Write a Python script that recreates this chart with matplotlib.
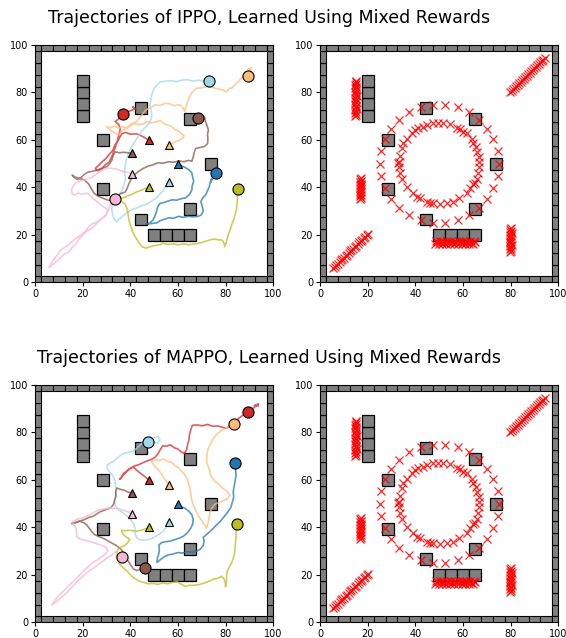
import matplotlib
matplotlib.use("Agg")
import matplotlib.pyplot as plt
from matplotlib.patches import Rectangle

# ---------------------------------------------------------------- colours
agent_colors = ["#d62728", "#ffbb78", "#9edae5", "#8c564b",
                "#1f77b4", "#bcbd22", "#f7b6d2"]

# start positions (triangles), same for both methods
start_x = [47.8, 56.2, 56.2, 40.8, 59.9, 47.8, 40.8]
start_y = [59.8, 57.9, 42.1, 54.4, 49.8, 40.1, 45.6]

# obstacles (square blocks, 5 x 5)
obstacle_x = [20, 20, 20, 20, 28.5, 28.5, 44.5, 65, 74, 65, 44.5, 50, 55, 60, 65]
obstacle_y = [70, 75, 80, 85, 60, 39.5, 73.5, 68.8, 49.8, 31, 26.5, 20, 20, 20, 20]

# ---------------------------------------------------------------- IPPO trajectories
ippo_red = [(47.5,60),(46,61),(44.5,61.8),(42.5,62.6),(40,62.4),(38,63.2),(36.5,62.6),(35.5,61),
            (34.8,59.5),(33.5,57.8),(32.6,55.5),(31.2,54),(29.8,52.2),(28,50.6),(26.6,49.2),(25.3,48),
            (26.2,47),(27.8,47.6),(29.5,49.6),(31,50.5),(32.2,52.8),(33,55),(33.8,57.2),(34.6,59.8),
            (35.2,62.3),(35.8,64.5),(35.2,66.5),(33.6,67.8),(34.8,68.6),(36.2,69.8),(37.2,70.8),
            (38.8,71.8),(40.5,72.5),(42,73.2),(41,74),(42.4,72.6)]
ippo_orange = [(56.2,57.9),(58,58.8),(60,59.6),(61.8,60.6),(62.6,61.8),(61.5,62.6),(60.2,63.8),(58.8,64.3),
               (57.5,65.5),(56,66.2),(54.3,66.8),(52.5,68.2),(50.5,67.6),(49,67.2),(47.2,67.8),(45.5,66.8),
               (43.6,66.4),(42,66.9),(40.3,66.2),(38.8,64.8),(37,65.6),(35.2,65),(33.4,65.8),(31.5,65.2),
               (30,65.6),(31.4,64.3),(33,63.2),(35,62.2),(36.5,63.8),(38.4,65.2),(40.5,66.8),(42.4,67.6),
               (44,69.4),(45.2,71),(46.8,72.8),(48.5,73.6),(50.5,74.8),(52.6,74.6),(54.6,75.4),(56.6,75.2),
               (58.5,74.4),(60.5,74.9),(62,73.6),(62.8,72),(63.4,74),(64,76),(65,78.4),(66.2,80.4),
               (67.8,81.8),(70,82),(72.4,82.6),(74.6,82.1),(77,81.5),(79,81),(80.4,80.2),(81.4,81.6),
               (82.8,82),(84.2,83.6),(85.6,84.8),(86.8,86.4),(88.2,86.8),(89.6,87.4),(90.6,89.2),
               (89.2,89.8),(91,90.4),(90,89)]
ippo_cyan = [(56.2,42.2),(55,40.4),(53.8,38.6),(52.4,37.2),(51,35.6),(49.2,34.4),(47,33),(45,32.4),
             (42.8,31.4),(40.6,30.6),(38.6,29.4),(36.8,28),(35.2,26.5),(34.2,25.4),(33.2,26.8),(32.6,28.6),
             (32.2,30.8),(32.4,32.8),(33.6,34.8),(35,36.4),(36.6,38.8),(37.4,41.4),(38,43.6),(37.6,46.2),
             (37.8,48.8),(38.2,51.2),(39,53.6),(40,56),(41.2,58.2),(42.6,60.4),(44,62.6),(45.6,64.6),
             (47.2,66.2),(48.4,67.8),(49,70),(48.8,72.4),(48.2,74.4),(48.6,76.6),(49,79),(49.8,81.4),
             (51,83),(52.6,84.4),(54.8,84.8),(57,85),(59.4,84.6),(61.6,85.2),(64,85.4),(66.4,84.8),
             (68.6,85.2),(70.8,84.9),(73,85)]
ippo_brown = [(40.8,54.3),(39,54.6),(37,54.8),(35.4,54.6),(33.6,55),(32.8,53.4),(32.2,51.4),(31.4,50),
              (30.2,48.8),(28.6,48.2),(27.2,47.8),(25.8,47.2),(24,46.8),(22.2,46.4),(20.6,45.4),(19.2,44),
              (17.8,43.4),(16.4,44.2),(15.6,45.2),(16.8,44.4),(18.6,43.8),(20.6,43.2),(22.4,41.6),
              (23.6,39.6),(24.6,37.8),(26,36.6),(27.6,35.8),(29.6,35),(31.4,34.4),(33,35.2),(34.6,36.6),
              (36,37.4),(37.8,38),(38.6,39.4),(39.2,41),(40.2,43.2),(41.4,45),(43.2,46.6),(45.4,48),
              (47.6,49),(49.8,49.6),(51.6,50.4),(53.8,50.2),(56,50.8),(58.2,50.6),(60.4,51.2),(62.4,50.8),
              (64.4,51.4),(65.8,51),(66.4,52.8),(66.8,54.6),(67.4,56.4),(69.2,56.8),(71,57.2),(72.4,58.4),
              (72.6,60.4),(72.4,62.4),(72.8,64.2),(72.2,66),(71.6,67.8),(71.2,69.4),(70,70.4),(68.6,69.4)]
ippo_blue = [(59.9,50),(61.4,49.2),(63,48.4),(64.6,47.4),(65.8,46.2),(66.2,44.4),(66.6,42.6),(66,40.8),
             (65.8,38.8),(64.8,37),(63.2,35.6),(61.2,35.2),(59.4,34.6),(57.6,34.8),(55.8,34.2),(54,33.6),
             (52.4,33.2),(51.4,31.6),(51,29.8),(50.4,28),(49.6,26.4),(48.4,25.2),(47.4,24.6),(49,24.8),
             (51,25),(52.6,26),(54.4,26.6),(56.2,27.2),(58.2,27),(60.2,27.8),(62.2,27.4),(64.4,27.8),
             (66.4,27.6),(68.4,27.8),(69.8,28.4),(70.6,30),(70.2,32),(69.6,34),(70.4,35.6),(71.6,36.8),
             (72.4,38.6),(73.2,40.4),(73.6,42.4),(74.2,43.8),(73.8,42.2),(74.8,44.6),(75.8,45.8)]
ippo_olive = [(47.8,40.2),(46.4,39.6),(44.6,38.8),(42.8,38.2),(41,37.2),(39.4,36.6),(37.6,35.8),(35.8,35.4),
              (34.2,35),(33,34.4),(34.6,34.2),(36.4,34),(37.8,33),(38.6,31.2),(39,29.4),(39.2,27.6),
              (39.6,25.6),(40.2,23.6),(40.8,21.8),(41.6,20),(42.6,18.4),(43.6,16.6),(45,15),(46.6,14.4),
              (48.2,15),(50,15.4),(52,15.8),(54,16.4),(56,16),(58,16.2),(60.2,15.8),(62.4,16.2),(64.6,15.8),
              (66.6,16.2),(68.6,16.4),(70.6,17),(72.6,17.6),(74.6,18.2),(76.6,18),(78.6,17.8),(79.4,16.4),
              (79.6,15),(80.2,16.6),(80.6,18.4),(81.2,20.4),(82,22.4),(82.6,24.4),(83.4,26.4),(84,28.6),
              (84.6,30.8),(84.8,33),(85,35.4),(84.8,37.4),(85.1,39.2)]
ippo_pink = [(40.8,45.6),(39.2,46.2),(37.4,46.6),(35.6,47.2),(34,47.8),(32.4,48),(30.6,48.2),(29,47.6),
             (27.4,46.8),(25.6,45.4),(23.8,44.2),(22,43.6),(20.2,43),(18.6,42.6),(17.2,42),(16,40.6),
             (15.4,39),(15.6,37.4),(16.6,36.8),(18.2,37.6),(19.8,37),(21.6,37.6),(23.2,36.6),(24.6,35.2),
             (26,34),(27.4,32.8),(28.8,31.8),(30.2,31),(30.4,29.4),(29.2,27.8),(27.6,26.6),(26,25.4),
             (24.2,24.8),(22.6,23.6),(21.4,21.8),(20,20.4),(18.6,19.4),(17,18.4),(15.2,16.8),(13.6,15.4),
             (12,14.4),(10.6,13.4),(9.6,11.8),(8.4,10.4),(7.2,8.6),(5.8,6.2),(7.4,7.4),(8.8,8.6),
             (10.6,10.2),(12.4,12),(14,12.6),(15.6,14.6),(17.2,16.4),(18.6,18.4),(20.2,20.2),(21.8,21.6),
             (23.6,22.6),(25.2,24),(26.6,25.6),(28.2,26.8),(29.8,28.4),(30.8,30.4),(31.4,32.4),(32.4,34),
             (33.5,35)]

# final positions (circles)
ippo_end_x = [37.1, 89.6, 73.0, 68.6, 75.9, 85.1, 33.5]
ippo_end_y = [70.8, 87.0, 85.0, 69.4, 45.9, 39.2, 35.1]

# ---------------------------------------------------------------- MAPPO trajectories
mappo_red = [(47.8,59.8),(46.6,61),(45.4,62),(44,63),(42.6,64.2),(41.2,65.4),(39.6,64.6),(38.4,63.6),
             (37.2,62.8),(36.4,61.4),(35.6,60.2),(36.8,61.8),(38.2,63.2),(39.8,64.8),(41.6,65.8),
             (43.4,66.4),(45.2,67.2),(47,68),(48.8,68.6),(50.4,69.6),(51.6,71),(52.6,72.8),(53.6,74.4),
             (55.2,74.2),(56.8,74.8),(58.4,73.6),(60,73),(61.4,71.8),(62.6,71.2),(63.6,72.6),(64,74.6),
             (64.6,76.8),(64.8,79),(65.4,81.2),(66,83),(68,83.2),(70.2,82.8),(72.4,83.4),(74.6,82.6),
             (76.8,82.8),(78.6,82.2),(80.2,81.8),(81.6,82.6),(83,83.6),(84.4,84.8),(85.8,86.2),
             (87.4,87.4),(89,88.2),(90.6,89.4),(92,90.6),(93.8,92),(92,91.4),(93.6,91.2)]
mappo_orange = [(56.2,57.9),(55,59.6),(53.8,61.4),(52.6,63.2),(51.2,64.8),(50,66.2),(49,67.6),(50.4,68.6),
                (52,68.2),(53.8,68.8),(55.6,67.8),(57.4,67.4),(58.8,66),(60.4,65),(61.6,63.6),(62.8,62.2),
                (63.8,60.6),(64.4,58.6),(65,56.6),(65.4,54.4),(65.6,52.2),(66.2,50.2),(67,48.2),(67.8,46.4),
                (68.8,44.6),(70,42.8),(71.2,41),(72,39.6),(72.6,41.6),(73,43.8),(73.4,46),(74.2,48.2),
                (75.6,49.8),(77.4,50.6),(79.2,51.4),(80.8,52),(81.8,53.6),(80.6,55.2),(79,56.4),(77.4,58),
                (75.8,59.2),(74.6,60.6),(73.6,62.4),(73.2,64.4),(72.4,66.4),(72,68.6),(72.2,70.8),
                (72.6,73),(73.6,75),(74.8,77.4),(76.4,79.4),(78.2,80.8),(80,81.8),(81.8,83),(83.4,83.6)]
mappo_cyan = [(56.2,42),(55.2,40.2),(53.8,38.4),(52,37),(50,35.8),(48,35),(46,34.6),(44,34.8),(42.6,35.8),
              (42,37.6),(42,39.6),(41.4,41.6),(40,43.4),(38.4,45),(36.6,46.4),(34.8,47.6),(33.8,49),
              (33.4,51),(33.8,53),(34.2,55.2),(33.8,57.4),(33.6,59.6),(32.8,61.6),(31.6,63),(30.4,64.6),
              (30.2,66),(31.6,67.2),(33.2,68),(34.8,69.4),(36.4,70.8),(38,71.4),(39.8,71.8),(41.4,72.2),
              (42.8,73.4),(44.2,74.8),(45.6,76.2),(47,77.4),(48.6,78),(50.2,77.8),(51.8,78.4),(52.4,77),
              (51.4,75.4),(50,76),(48.6,76.2),(47.4,76)]
mappo_brown = [(40.8,54.4),(39.2,54.8),(37.6,55.6),(36,56),(34.4,56.6),(33.8,55),(34,53.2),(33.4,51.4),
               (33,49.8),(32,48.4),(30.6,47.8),(29,47.2),(27.4,46.6),(25.8,45.6),(24.2,44.6),(22.6,44.2),
               (21,43.4),(19.4,42.8),(17.8,42.4),(16.4,41.8),(15.4,41.6),(17,42),(18.8,42.6),(20.4,42),
               (21.8,41),(22.8,39.6),(23.8,38.2),(25,37),(26.6,36.2),(28.2,35.6),(29.8,34.8),(31.2,34),
               (32.6,33.2),(34,32.4),(35.4,31.4),(36.6,30.2),(37.6,28.6),(38.4,27),(39.4,25.4),(40.4,23.8),
               (41.4,22.4),(42.8,21.8),(44.4,22.4),(46,23)]
mappo_blue = [(59.9,49.6),(61.4,48.8),(63,48),(64.6,46.8),(65.8,45.4),(66.4,43.4),(66.2,41.4),(65.2,39.4),
              (63.8,37.6),(62.2,36.2),(60.4,35.4),(58.6,34.8),(56.8,34.2),(55,34),(53.2,33.6),(52,32.6),
              (52.2,30.8),(52,29),(51.4,27.2),(51.2,25.2),(52.6,26.4),(54.2,27.6),(56,28.4),(58,28.8),
              (60,29.4),(62,29.2),(64,29.8),(66,29.6),(67.8,30),(69.4,30.8),(70.6,32.4),(71,34.2),
              (70.6,35.8),(72,37),(73.6,38.4),(75,39.8),(76.6,41.4),(78.2,43),(79.6,44.8),(81,46.6),
              (82.2,48.4),(82.8,50.6),(83.4,52.8),(83.2,55),(83.6,57.4),(84,59.6),(84.4,61.8),(84.2,64),
              (84,66.8)]
mappo_olive = [(47.8,40),(46.4,39.4),(44.6,38.8),(42.8,38.4),(41,38.6),(39.4,38.8),(37.8,38.6),(36.4,38.8),
               (36.8,37.2),(38.2,36),(39.8,35),(38.6,33.2),(37,32),(35.2,31.4),(34.4,29.6),(34.2,27.6),
               (34.8,25.8),(35.8,24.2),(37.2,22.8),(38.8,21.4),(40.4,19.6),(42,18.4),(43.8,17.4),(45.6,16.8),
               (47.6,16.2),(49.6,16.4),(51.6,16),(53.6,16.6),(55.6,16.2),(57.6,16.8),(59.6,17.2),(61.2,16.2),
               (63,15.2),(65,15.6),(67,15.6),(69.2,16),(71.2,16.6),(73.2,17.4),(75,18.2),(76.8,18.6),
               (78.4,19.4),(79.4,18.2),(79.8,16.6),(80,15),(80.4,17),(80.4,19.2),(80.6,21.2),(81.4,23),
               (82.4,24.8),(83.2,27),(83.8,29.4),(84,31.8),(84.2,34.2),(84.4,36.6),(84.4,39),(84.6,41.6)]
mappo_pink = [(40.8,45.6),(39.4,46.4),(37.8,47),(36,47.6),(34.2,48),(32.4,48.2),(30.6,48),(28.8,47.8),
              (27,47.4),(25.2,46.6),(23.4,45.6),(21.6,44.6),(19.8,43.8),(18,43.6),(16.6,42.8),(15.4,42.2),
              (16.4,41.2),(17.2,39.6),(17.4,37.8),(17.6,36),(19,35),(20.8,34.6),(22.6,34.2),(24.4,33.6),
              (26.2,33),(28,32.4),(29.8,31.6),(30.6,30.2),(29.6,28.8),(28,27.6),(26.4,26.4),(24.6,25.4),
              (23,24),(21.4,22.6),(19.8,21),(18.2,19.4),(16.6,17.8),(15,16.2),(13.4,14.6),(11.8,13),
              (10.2,11.4),(8.6,9.6),(7,7.2),(8.8,8.6),(10.6,10),(12.4,11.6),(14.2,13.4),(16,15.4),
              (17.8,17.2),(19.6,19),(21.4,20.6),(23.2,22),(25,23.2),(26.8,24.6),(28.6,25.8),(30.4,27.2),
              (32.2,28.4),(33.8,29.8),(35,28.6),(36.4,27.8)]

mappo_end_x = [89.6, 83.6, 47.4, 46.2, 84.0, 84.6, 36.5]
mappo_end_y = [88.6, 83.5, 76.1, 23.0, 67.0, 41.6, 27.7]

ippo_paths = [ippo_red, ippo_orange, ippo_cyan, ippo_brown, ippo_blue, ippo_olive, ippo_pink]
mappo_paths = [mappo_red, mappo_orange, mappo_cyan, mappo_brown, mappo_blue, mappo_olive, mappo_pink]

# ---------------------------------------------------------------- target markers (red crosses)
outer_ring_x = [75, 74.5, 72.8, 70.2, 66.7, 62.5, 57.7, 52.6, 47.4, 42.3, 37.5, 33.3, 29.8, 27.2, 25.5,
                25, 25.5, 27.2, 29.8, 33.3, 37.5, 42.3, 47.4, 52.6, 57.7, 62.5, 66.7, 70.2, 72.8, 74.5]
outer_ring_y = [50, 55.2, 60.2, 64.7, 68.6, 71.7, 73.8, 74.9, 74.9, 73.8, 71.7, 68.6, 64.7, 60.2, 55.2,
                50, 44.8, 39.8, 35.3, 31.4, 28.3, 26.2, 25.1, 25.1, 26.2, 28.3, 31.4, 35.3, 39.8, 44.8]
inner_ring_x = [41.3, 44.8, 47.6, 49.7, 51.8, 54.6, 57.6, 58.8, 61.6, 63.6, 65.5, 66.0, 66.9, 66.9, 66.9,
                66.4, 65.7, 64.4, 62.9, 61.6, 58.5, 55.7, 53.1, 50.4, 47.6, 44.8, 42.0, 38.9, 36.4, 34.5,
                33.6, 33.3, 33.3, 33.6, 34.3, 35.0, 36.4, 38.5, 39.9, 43.4, 60.1, 64.4, 65.0, 40.6, 46.2, 32.9]
inner_ring_y = [64.9, 66.3, 67.0, 67.3, 67.0, 66.6, 65.2, 64.5, 62.8, 60.2, 57.1, 55.0, 53.0, 50.8, 48.4,
                46.2, 43.4, 41.4, 39.6, 37.5, 35.4, 34.0, 33.3, 33.0, 33.3, 34.0, 35.4, 37.5, 40.0, 43.4,
                46.2, 48.4, 50.8, 53.2, 56.5, 58.6, 60.2, 62.8, 64.2, 65.6, 63.5, 58.6, 41.7, 36.1, 33.6, 50.1]
diag_low_x = [5.6, 6.3, 6.9, 7.5, 8.2, 8.8, 9.4, 10.1, 10.7, 11.3, 12.0, 12.6, 13.2, 13.9, 14.5,
              15.1, 15.8, 16.4, 17.0, 17.7, 18.3, 18.9, 19.6, 20.3]
diag_low_y = [6.0, 6.6, 7.3, 7.9, 8.5, 9.2, 9.8, 10.4, 11.1, 11.7, 12.3, 13.0, 13.6, 14.2, 14.9,
              15.5, 16.1, 16.8, 17.4, 18.0, 18.7, 19.3, 19.9, 20.4]
diag_high_x = [79.8, 80.4, 81.1, 81.7, 82.3, 83.0, 83.6, 84.2, 84.9, 85.5, 86.1, 86.8, 87.4, 88.0,
               88.7, 89.3, 89.9, 90.6, 91.2, 91.8, 92.5, 93.1, 93.7, 94.3]
diag_high_y = [80.2, 80.8, 81.4, 82.0, 82.7, 83.3, 83.9, 84.5, 85.2, 85.8, 86.4, 87.0, 87.7, 88.3,
               88.9, 89.5, 90.2, 90.8, 91.4, 92.0, 92.7, 93.3, 93.9, 94.4]
col_a_x = [14.6, 15.3, 14.8, 15.2, 14.5, 15.4, 14.9, 15.1, 14.6, 15.3, 14.8, 15.2, 14.5, 15.4, 14.9,
           15.1, 14.6, 15.3, 14.8, 15.2, 14.7, 15.3, 14.9, 15.1]
col_a_y = [70.0, 70.6, 71.3, 71.9, 72.6, 73.2, 73.9, 74.5, 75.2, 75.8, 76.5, 77.1, 77.8, 78.4, 79.1,
           79.7, 80.4, 81.0, 81.7, 82.3, 83.0, 83.6, 84.3, 84.8]
col_b_x = [16.7, 17.3, 16.9, 17.2, 16.6, 17.4, 16.8, 17.1, 16.7, 17.3, 16.9, 17.2, 16.6, 17.4, 16.8, 17.1]
col_b_y = [35.0, 35.6, 36.2, 36.8, 37.4, 38.0, 38.6, 39.2, 39.8, 40.4, 41.0, 41.6, 42.2, 42.8, 43.4, 44.0]
col_c_x = [79.7, 80.3, 79.9, 80.2, 79.6, 80.4, 79.8, 80.1, 79.7, 80.3, 79.9, 80.2, 79.6, 80.4, 79.8,
           80.1, 79.7, 80.3]
col_c_y = [12.8, 13.4, 14.0, 14.6, 15.2, 15.8, 16.4, 17.0, 17.6, 18.2, 18.8, 19.4, 20.0, 20.6, 21.2,
           21.8, 22.4, 23.0]
row_d_x = [48.2, 49.0, 49.8, 50.6, 51.4, 52.2, 53.0, 53.8, 54.6, 55.4, 56.2, 57.0, 57.8, 58.6, 59.4,
           60.2, 61.0, 61.8, 62.6, 63.4, 64.2, 65.0, 48.6, 50.2, 51.8, 53.4, 55.0, 56.6, 58.2, 59.8,
           61.4, 63.0, 64.6]
row_d_y = [16.2, 16.8, 16.0, 16.9, 16.3, 16.7, 16.1, 16.9, 16.2, 16.7, 16.0, 16.8, 16.3, 16.9, 16.1,
           16.7, 16.2, 16.8, 16.0, 16.7, 16.3, 16.8, 17.3, 17.4, 17.2, 17.4, 17.3, 17.2, 17.4, 17.3,
           17.2, 17.4, 17.3]

target_x = (outer_ring_x + inner_ring_x + diag_low_x + diag_high_x + col_a_x + col_b_x
            + col_c_x + row_d_x)
target_y = (outer_ring_y + inner_ring_y + diag_low_y + diag_high_y + col_a_y + col_b_y
            + col_c_y + row_d_y)

titles = ["Trajectories of IPPO, Learned Using Mixed Rewards",
          "Trajectories of MAPPO, Learned Using Mixed Rewards"]
ticks = [0, 20, 40, 60, 80, 100]
wall_steps = list(range(0, 101, 5))

GRAY = "#808080"


def draw_arena(ax):
    ax.set_xlim(0, 100)
    ax.set_ylim(0, 100)
    ax.set_xticks(ticks)
    ax.set_yticks(ticks)
    ax.tick_params(labelsize=7, length=3, width=0.8, pad=2)
    # boundary wall
    for s in wall_steps:
        for cx, cy in ((s, 0), (s, 100), (0, s), (100, s)):
            ax.add_patch(Rectangle((cx - 2.5, cy - 2.5), 5, 5, facecolor=GRAY,
                                   edgecolor="black", linewidth=0.8, zorder=2))
    # obstacles
    for cx, cy in zip(obstacle_x, obstacle_y):
        ax.add_patch(Rectangle((cx - 2.5, cy - 2.5), 5, 5, facecolor=GRAY,
                               edgecolor="black", linewidth=0.9, zorder=2))


def draw_trajectories(ax, paths, end_x, end_y):
    draw_arena(ax)
    for path, color in zip(paths, agent_colors):
        xs = [p[0] for p in path]
        ys = [p[1] for p in path]
        ax.plot(xs, ys, color=color, lw=1.2, alpha=0.75, zorder=3)
    for sx, sy, color in zip(start_x, start_y, agent_colors):
        ax.plot(sx, sy, marker="^", ms=5.5, color=color, mec="black", mew=0.8, zorder=5)
    for ex, ey, color in zip(end_x, end_y, agent_colors):
        ax.plot(ex, ey, marker="o", ms=8, color=color, mec="black", mew=0.8, zorder=5)


def draw_targets(ax):
    draw_arena(ax)
    ax.plot(target_x, target_y, linestyle="none", marker="x", ms=5.2, mew=0.9,
            color="red", alpha=0.85, zorder=4)


fig = plt.figure(figsize=(5.66, 6.38), dpi=100)
w, h = 0.4210, 0.3719
ax_pos = [[0.0618, 0.5575, w, h], [0.5654, 0.5575, w, h],
          [0.0618, 0.0246, w, h], [0.5654, 0.0246, w, h]]
axes = [fig.add_axes(p) for p in ax_pos]

draw_trajectories(axes[0], ippo_paths, ippo_end_x, ippo_end_y)
draw_targets(axes[1])
draw_trajectories(axes[2], mappo_paths, mappo_end_x, mappo_end_y)
draw_targets(axes[3])

fig.text(0.475, 0.972, titles[0], ha="center", va="center", fontsize=12.5)
fig.text(0.475, 0.439, titles[1], ha="center", va="center", fontsize=12.5)

fig.savefig("out.png", dpi=100)
